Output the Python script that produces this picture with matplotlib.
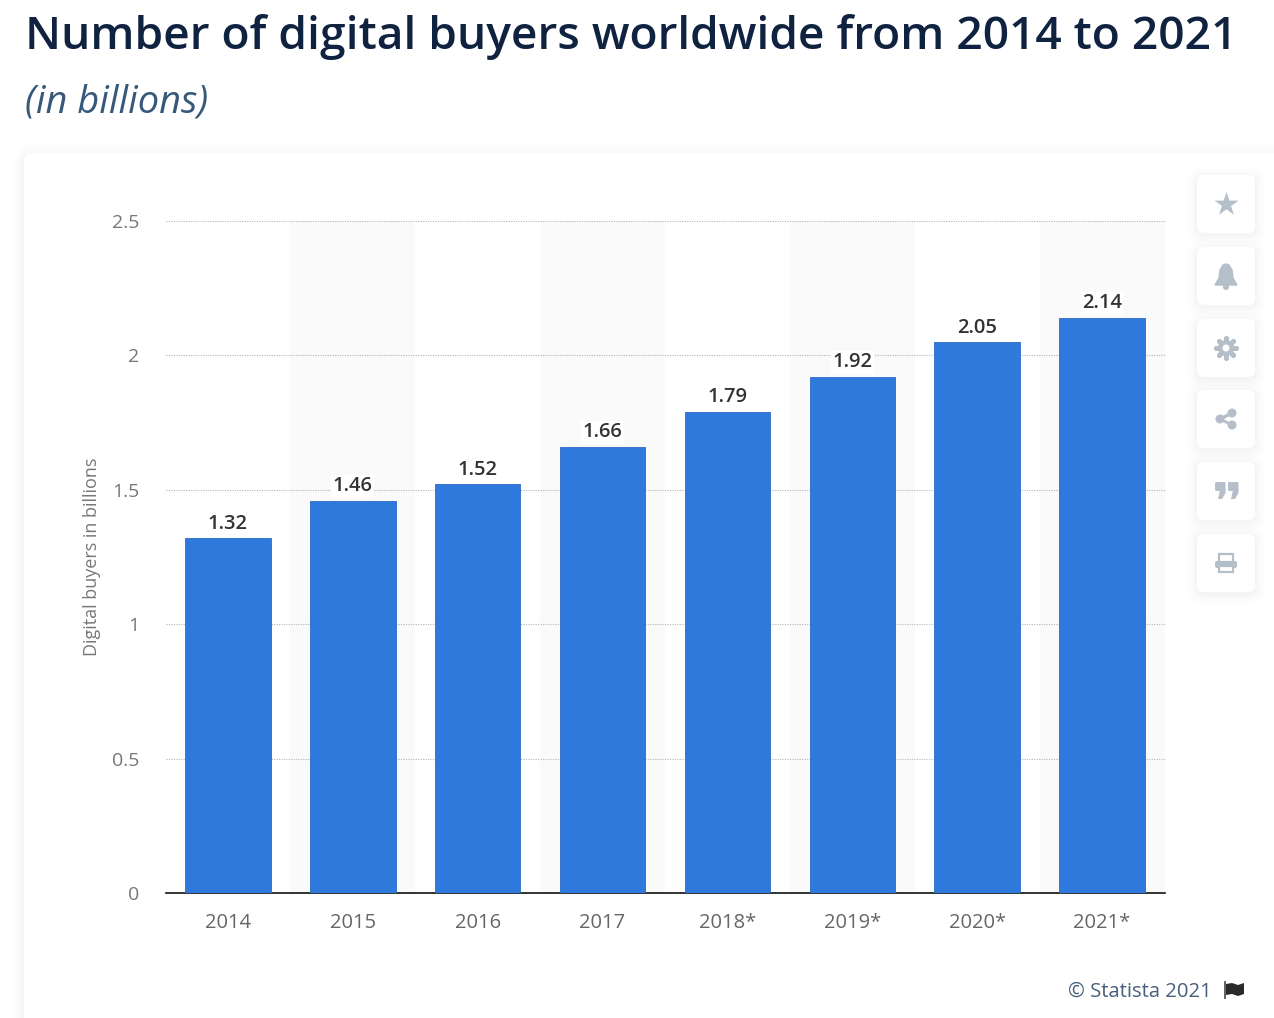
import matplotlib as mpl
mpl.use('agg')
import matplotlib.pyplot as plt
from matplotlib.patches import FancyBboxPatch, Circle, Polygon, Rectangle

plt.rcParams['font.family'] = ['Open Sans', 'DejaVu Sans']

# Data
years = ['2014', '2015', '2016', '2017', '2018*', '2019*', '2020*', '2021*']
buyers = [1.32, 1.46, 1.52, 1.66, 1.79, 1.92, 2.05, 2.14]
y_ticks = [0, 0.5, 1, 1.5, 2, 2.5]
y_tick_labels = ['0', '0.5', '1', '1.5', '2', '2.5']
button_centers = [204, 276, 348, 419, 491, 563]

W, H = 1274, 1018
fig = plt.figure(figsize=(W / 100, H / 100), dpi=100, facecolor='white')

# Overlay in pixel coordinates for the page furniture
bg = fig.add_axes([0, 0, 1, 1], zorder=0)
bg.set_xlim(0, W)
bg.set_ylim(H, 0)
bg.axis('off')


def soft_box(x, y, w, h, r, zorder):
    for grow, alpha in [(10, 0.006), (7, 0.008), (4, 0.010), (2, 0.012)]:
        bg.add_patch(FancyBboxPatch((x - grow, y - grow + 2), w + 2 * grow, h + 2 * grow,
                                    boxstyle=f'round,pad=0,rounding_size={r + grow}',
                                    fc='#1f3a5f', ec='none', alpha=alpha, zorder=zorder))
    bg.add_patch(FancyBboxPatch((x, y), w, h, boxstyle=f'round,pad=0,rounding_size={r}',
                                fc='white', ec='none', zorder=zorder + 0.1))


soft_box(24, 153, 1290, 900, 8, 1)

# Title
bg.text(25, 37, 'Number of digital buyers worldwide from 2014 to 2021', fontsize=33.2,
        fontweight=600, color='#0f2240', va='center', ha='left')
bg.text(25, 102, '(in billions)', fontsize=27.4, fontstyle='italic', color='#36587a',
        va='center', ha='left')

# Side buttons
icon = '#b4bfca'
for cy in button_centers:
    soft_box(1197, cy - 29, 58, 58, 7, 2)
# star
bg.scatter([1226], [204], marker='*', s=330, color=icon, linewidths=0, zorder=4)
# bell
bg.add_patch(Polygon([(1215, 285), (1219, 278), (1220, 270), (1223, 265), (1226, 264), (1229, 265),
                      (1232, 270), (1233, 278), (1237, 285)], fc=icon, ec=icon, lw=1, zorder=4))
bg.add_patch(Circle((1226, 287), 3, fc=icon, ec='none', zorder=3.9))
# gear
bg.scatter([1226], [348], marker=(8, 2, 0), s=200, color=icon, linewidths=3.5, zorder=4)
bg.add_patch(Circle((1226, 348), 8, fc=icon, ec='none', zorder=4.1))
bg.add_patch(Circle((1226, 348), 3.5, fc='white', ec='none', zorder=4.2))
# share
bg.plot([1220, 1232, 1220, 1232], [419, 413, 419, 425], color=icon, lw=2, zorder=4)
for px, py, r in [(1220, 419, 4.5), (1232, 413, 4.5), (1232, 425, 4.5)]:
    bg.add_patch(Circle((px, py), r, fc=icon, ec='none', zorder=4))
# quotes
for qx in [1215, 1228]:
    bg.add_patch(FancyBboxPatch((qx, 482), 10.5, 9, boxstyle='round,pad=0,rounding_size=1.5',
                                fc=icon, ec='none', zorder=4))
    bg.add_patch(Polygon([(qx + 10.5, 489), (qx + 10.5, 493), (qx + 7, 499), (qx + 3, 499), (qx + 5, 490)],
                         fc=icon, ec='none', zorder=4))
# printer
bg.add_patch(Rectangle((1219, 554), 14, 8, fc='white', ec=icon, lw=1.6, zorder=4))
bg.add_patch(FancyBboxPatch((1215, 561), 22, 7, boxstyle='round,pad=0,rounding_size=2', fc=icon, ec='none', zorder=4.1))
bg.add_patch(Rectangle((1219, 566), 14, 6, fc='white', ec=icon, lw=1.6, zorder=4.2))

# Footer
bg.text(1212, 992, '\u00a9 Statista 2021', fontsize=14.6, color='#47607c', ha='right', va='center', zorder=4)
bg.plot([1225, 1225], [982, 998], color='#555555', lw=1.3, zorder=4)
bg.add_patch(Polygon([(1226, 984), (1232, 983), (1238, 985), (1244, 983), (1244, 994), (1238, 996),
                      (1232, 994), (1226, 995)], fc='#2a2a2a', ec='none', zorder=4))

# Chart
ax = fig.add_axes([165.5 / W, (H - 893) / H, 999 / W, (893 - 221) / H], zorder=5)
ax.patch.set_alpha(0)
positions = list(range(len(years)))

for i in positions:
    if i % 2 == 1:
        ax.axvspan(i - 0.5, i + 0.5, fc='#fafafa', ec='none', zorder=0)

bars = ax.bar(positions, buyers, width=0.685, color='#2f78dc', edgecolor='#2a6cc8', linewidth=0.6, zorder=3)
labels = ax.bar_label(bars, labels=[f'{v:.2f}' for v in buyers], padding=3.2, fontsize=14.5, fontweight=600,
                      color='#333333', zorder=4)
for label in labels:
    label.set_bbox(dict(fc='white', ec='none', pad=1))

ax.set_xlim(-0.5, len(years) - 0.5)
ax.set_ylim(0, 2.5)
ax.set_xticks(positions, years)
ax.set_yticks(y_ticks, y_tick_labels)
ax.grid(axis='y', color='#b5b5b5', linestyle=(0, (1, 1.2)), linewidth=0.8, zorder=1)
ax.set_axisbelow(True)
ax.tick_params(axis='x', length=0, pad=14.5, labelsize=14.5, labelcolor='#666666')
ax.tick_params(axis='y', length=0, pad=19, labelsize=14, labelcolor='#777777')
ax.set_ylabel('Digital buyers in billions', fontsize=13, color='#777777', labelpad=8)
for side in ['top', 'right', 'left']:
    ax.spines[side].set_visible(False)
ax.spines['bottom'].set_color('#111111')
ax.spines['bottom'].set_linewidth(1.2)

fig.savefig('out.png', dpi=100)
